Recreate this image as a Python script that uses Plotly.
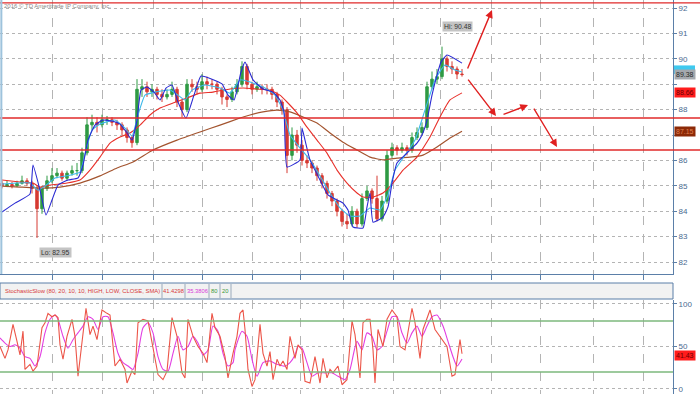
import plotly.graph_objects as go

# ---------------- data ----------------
bar_idx = list(range(93))
opens = [85.1, 85.0, 85.05, 85.0, 85.1, 85.2, 85.1, 84.9, 84.1, 84.9,
         85.2, 85.4, 85.5, 85.3, 85.5, 85.6, 85.6, 86.3, 87.4, 87.5,
         87.4, 87.6, 87.6, 87.5, 87.4, 87.2, 86.9, 86.7, 88.8, 88.9,
         88.7, 88.8, 88.6, 88.5, 88.6, 88.8, 88.3, 88.0, 89.0, 88.9,
         88.8, 89.1, 89.0, 89.0, 88.8, 88.5, 88.4, 88.7, 89.0, 89.7,
         89.0, 88.8, 88.9, 88.8, 88.8, 88.6, 88.3, 88.0, 86.2, 87.0,
         86.6, 86.0, 85.9, 85.7, 85.4, 85.1, 84.7, 84.4, 84.0, 83.6,
         83.5, 84.0, 83.5, 84.5, 84.8, 84.5, 83.7, 84.4, 86.2, 86.5,
         86.4, 86.5, 86.4, 86.9, 87.1, 87.3, 88.9, 89.2, 89.3, 90.0,
         89.7, 89.6, 89.4]
highs = [85.2, 85.2, 85.15, 85.2, 85.4, 85.3, 85.2, 85.0, 85.0, 85.4,
         85.7, 85.7, 85.6, 85.6, 85.8, 85.9, 86.5, 87.7, 87.8, 87.7,
         87.8, 87.75, 87.7, 87.6, 87.5, 87.3, 87.0, 89.2, 89.2, 89.1,
         89.0, 88.9, 88.8, 88.8, 89.1, 88.9, 88.4, 89.2, 89.2, 89.1,
         89.4, 89.3, 89.2, 89.1, 88.9, 88.6, 88.9, 89.2, 89.9, 89.8,
         89.1, 89.1, 89.0, 89.0, 88.9, 88.7, 88.4, 88.1, 87.3, 87.2,
         86.8, 86.2, 86.0, 85.8, 85.5, 85.2, 84.8, 84.5, 84.1, 83.9,
         84.2, 84.1, 84.7, 85.0, 84.9, 85.4, 84.6, 86.4, 86.7, 86.6,
         86.7, 86.6, 87.1, 87.3, 87.5, 89.1, 89.5, 89.6, 90.48, 90.1,
         89.9, 89.7, 89.6]
lows = [84.9, 84.95, 84.9, 84.95, 85.05, 85.0, 84.7, 82.95, 83.9, 84.8,
        85.1, 85.3, 85.2, 85.2, 85.4, 85.4, 85.5, 86.2, 87.2, 87.1,
        87.3, 87.4, 87.35, 87.2, 87.0, 86.7, 86.5, 86.6, 88.5, 88.5,
        88.5, 88.4, 88.3, 88.4, 88.5, 88.1, 87.7, 87.9, 88.7, 88.6,
        88.7, 88.8, 88.8, 88.6, 88.2, 88.1, 88.3, 88.6, 88.9, 88.8,
        88.6, 88.7, 88.6, 88.6, 88.4, 88.1, 87.8, 85.5, 86.0, 86.3,
        85.8, 85.7, 85.5, 85.2, 84.9, 84.5, 84.2, 83.8, 83.4, 83.3,
        83.4, 83.35, 83.4, 84.4, 84.3, 83.6, 83.6, 84.3, 86.1, 86.2,
        86.3, 86.2, 86.3, 86.8, 87.0, 87.2, 88.8, 89.0, 89.2, 89.5,
        89.4, 89.2, 89.3]
closes = [85.0, 85.05, 85.0, 85.1, 85.2, 85.1, 84.9, 84.1, 84.9, 85.2,
          85.4, 85.5, 85.3, 85.5, 85.6, 85.6, 86.3, 87.4, 87.5, 87.4,
          87.6, 87.6, 87.5, 87.4, 87.2, 86.9, 86.7, 88.8, 88.9, 88.7,
          88.8, 88.6, 88.5, 88.6, 88.8, 88.3, 88.0, 89.0, 88.9, 88.8,
          89.1, 89.0, 89.0, 88.8, 88.5, 88.4, 88.7, 89.0, 89.7, 89.0,
          88.8, 88.9, 88.8, 88.8, 88.6, 88.3, 88.0, 86.2, 87.0, 86.6,
          86.0, 85.9, 85.7, 85.4, 85.1, 84.7, 84.4, 84.0, 83.6, 83.5,
          84.0, 83.5, 84.5, 84.8, 84.5, 83.7, 84.4, 86.2, 86.5, 86.4,
          86.5, 86.4, 86.9, 87.1, 87.3, 88.9, 89.2, 89.3, 90.0, 89.7,
          89.6, 89.4, 89.38]

# fast "blue" band line
blue_x = [0, 2.6, 5.6, 6.2, 7.6, 8.8, 10, 11.2, 13.2, 15.2, 16.2, 17.2, 18.6, 20.2,
          22, 23.6, 25, 26, 27, 27.8, 29, 30.4, 31.6, 32.8, 34, 35.2, 36.8, 38.4,
          39.8, 42, 44, 45.2, 46.4, 47.8, 48.6, 50.2, 52.2, 54.2, 55.6, 56.4, 57,
          59.6, 60, 60.6, 61.6, 63.6, 65.2, 67, 68.2, 69.2, 70.2, 72.2, 73, 73.6,
          74.2, 76.2, 77.2, 78, 79, 81, 83, 84, 85, 86, 87, 87.8, 89, 92]
blue_y = [83.97, 84.32, 84.68, 85.82, 84.83, 83.85, 84.44, 85.03, 85.23, 85.31,
          85.82, 86.80, 87.39, 87.59, 87.55, 87.43, 87.08, 86.80, 87.59, 88.77,
          88.89, 88.69, 88.38, 88.85, 88.97, 88.30, 87.67, 88.57, 89.32, 89.20,
          89.01, 88.57, 88.38, 89.48, 89.87, 89.17, 88.81, 88.69, 88.38, 87.91,
          85.74, 86.02, 87.27, 86.80, 86.02, 85.23, 84.64, 84.44, 84.32, 84.05,
          83.38, 83.34, 84.17, 84.72, 83.57, 83.77, 84.17, 85.11, 85.90, 86.29,
          86.68, 87.00, 87.59, 88.57, 89.36, 89.87, 90.15, 89.83]
cyan_x = [0, 5.6, 7.2, 8.6, 10.6, 13.6, 15.6, 16.8, 18, 19.6, 22.6, 24.6, 26, 27.2,
          28.6, 30.6, 33.6, 35.2, 36.6, 38, 40.6, 43.6, 45.6, 47.6, 49.6, 52.6,
          54.6, 56.2, 57.6, 59.6, 61.6, 63.6, 65.6, 67.6, 69.6, 71.6, 73.6, 75.6,
          77.2, 78.6, 80.6, 82.6, 84.6, 86.6, 88.6, 90.6, 92]
cyan_y = [85.07, 85.11, 84.83, 84.99, 85.31, 85.42, 85.54, 86.41, 87.20, 87.43,
          87.59, 87.27, 86.96, 87.79, 88.57, 88.69, 88.77, 88.57, 88.38, 88.77,
          88.97, 88.85, 88.65, 89.17, 89.09, 88.85, 88.57, 87.98, 87.00, 86.49,
          86.02, 85.39, 84.72, 84.13, 83.81, 83.81, 84.13, 84.05, 84.64, 85.62,
          86.21, 86.80, 87.98, 89.17, 89.76, 89.56, 89.48]
red_ma_x = [0, 3.6, 6.2, 7.6, 9.6, 13, 15.6, 17.6, 19.6, 21.6, 23.6, 25.6, 27.6,
            29.6, 31.6, 34.2, 37, 39.6, 42.2, 45.6, 48.2, 51, 53.6, 55.6, 57, 59,
            61, 63, 65, 67, 69, 71, 72.2, 74.2, 76.2, 78.2, 80.2, 83, 85.6, 87.6,
            89.6, 92]
red_ma_y = [85.23, 85.15, 85.11, 84.95, 85.03, 85.11, 85.23, 85.62, 86.13, 86.68,
            86.92, 87.08, 87.39, 87.79, 88.06, 88.26, 88.46, 88.65, 88.69, 88.81,
            88.85, 88.81, 88.77, 88.57, 88.30, 87.87, 87.31, 86.80, 86.29, 85.62,
            85.11, 84.72, 84.56, 84.56, 84.72, 85.11, 85.62, 86.13, 86.92, 87.71,
            88.38, 88.66]
brown_x = [0, 3.6, 8.2, 11.6, 15.6, 19.6, 23, 26.2, 30.2, 35, 39.6, 43.6, 47.6,
           49.6, 52.2, 55, 57.6, 60.2, 63, 65.6, 68.2, 71, 73.6, 76.2, 79, 81.6,
           84.2, 87, 89.6, 92]
brown_y = [84.99, 84.95, 84.91, 84.95, 85.11, 85.39, 85.70, 85.94, 86.41, 86.80,
           87.12, 87.39, 87.67, 87.79, 87.91, 87.98, 87.91, 87.71, 87.47, 87.08,
           86.72, 86.41, 86.13, 86.02, 86.09, 86.13, 86.21, 86.53, 86.88, 87.15]

# StochasticSlow %K and %D
k_x = [-0.4, 0.6, 1.2, 2.2, 3, 3.6, 4.2, 4.6, 5.6, 6.2, 7, 8, 8.6, 9.2, 10, 10.6,
       11.2, 11.6, 12.2, 13, 14, 14.6, 15.2, 16, 16.8, 17.6, 18.2, 19, 20, 21, 21.6,
       22.6, 23.6, 24.6, 25, 26, 26.6, 27.2, 28.2, 29.2, 30.2, 31.2, 32.2, 33, 34,
       35, 36, 36.6, 37.2, 38.2, 39.2, 40.2, 41, 42, 42.6, 43.6, 44.6, 45.2, 46.2,
       47, 47.6, 48.2, 48.6, 49.2, 50, 50.6, 51.6, 52.2, 53, 53.6, 54.2, 55, 55.6,
       56.2, 57, 57.6, 58.6, 59.2, 60, 60.6, 61.6, 62.6, 63.6, 64.2, 65, 65.6, 66.2,
       67.2, 68, 69, 70, 70.6, 71.6, 72.2, 73, 73.6, 74.2, 74.6, 75.2, 76.2, 77, 78,
       79, 79.6, 80.6, 82, 82.6, 83.6, 84.2, 85.6, 86.6, 87.6, 89, 90, 90.6, 91.6, 92]
k_y = [50, 36, 46, 76, 56, 40, 68, 23, 29, 21, 27, 72, 78, 89, 85, 87,
       84, 52, 35, 62, 82, 62, 15, 54, 95, 64, 74, 58, 93, 89, 87,
       27, 35, 23, 7, 21, 17, 78, 82, 80, 50, 17, 11, 21, 84,
       62, 19, 13, 82, 62, 50, 42, 31, 89, 72, 62, 38, 13, 42,
       62, 89, 93, 70, 23, 3, 11, 76, 42, 27, 44, 11, 35, 27,
       33, 23, 62, 36, 52, 46, 9, 7, 38, 7, 36, 13, 23, 19,
       27, 5, 11, 80, 64, 13, 78, 82, 82, 46, 7, 70, 50, 82, 93,
       85, 50, 46, 95, 78, 36, 70, 93, 70, 62, 50, 15, 17, 58, 41.43]
d_x = [-0.4, 0.6, 1.6, 2.6, 3.6, 4.6, 5.6, 6.6, 7.6, 8.6, 9.6, 10.6, 11.2, 12.2,
       13.2, 14.2, 15.2, 16.2, 17.2, 18.2, 19.2, 20.2, 21.2, 22.2, 23.2, 24.2, 25.2,
       26.2, 27.2, 28.2, 29.2, 30.2, 31.2, 32.2, 33.2, 34.2, 35.2, 36.2, 37.2, 38.2,
       39.2, 40.2, 41.2, 42.2, 43.2, 44.2, 45.2, 46.2, 46.6, 48, 49, 50, 51, 52.2,
       53.6, 55, 56.6, 57.6, 58.6, 59.2, 60, 61, 62, 63.2, 64.6, 66, 67.2, 68.6,
       69.6, 71, 72, 73, 74, 75, 76, 77, 78, 79, 80, 81, 82, 83, 84, 85, 86, 87,
       88.2, 89.2, 90.2, 91, 92]
d_y = [60, 54, 50, 52, 48, 38, 36, 27, 38, 66, 82, 87, 82, 62,
       48, 58, 66, 74, 85, 82, 70, 85, 85, 66, 42, 31, 27,
       23, 42, 72, 78, 66, 38, 23, 21, 42, 62, 46, 50, 62,
       54, 40, 46, 74, 68, 42, 27, 31, 46, 68, 62, 35, 15, 31,
       33, 29, 27, 31, 40, 50, 48, 31, 15, 19, 19, 19, 15, 11,
       23, 56, 46, 66, 62, 46, 50, 68, 85, 85, 66, 54, 66, 74, 62, 74, 85, 87,
       74, 56, 38, 27, 35.38]

date_ticks = [10, 20, 30.2, 40, 50, 59.6, 68.2, 78.2, 87.6, 97.8, 107.6, 118.2, 128.2]
price_ticks = [82, 83, 84, 85, 86, 87, 88, 89, 90, 91, 92]
# 87 and 89 are hidden behind the value badges in the reference
price_tick_text = ["82", "83", "84", "85", "86", "", "88", "", "90", "91", "92"]
stoch_ticks = [0, 50, 100]
support_levels = [92.2, 87.67, 86.41]
stoch_bands = [80, 20]

last_close, last_cyan_ma, last_red_ma, last_brown_ma = 89.38, 89.52, 88.66, 87.15
stoch_k_last, stoch_d_last = "41.4298", "35.3806"
hi_val, lo_val = 90.48, 82.95

# ---------------- styling ----------------
W, H = 700, 394
GREEN, RED = "#2f9a44", "#d63a32"
AXC = "#5b7fa8"
GRID = "#b4b4b4"
FONT = "Liberation Sans, Arial"

fig = go.Figure()
fig.add_trace(go.Candlestick(
    x=bar_idx, open=opens, high=highs, low=lows, close=closes,
    increasing=dict(line=dict(color=GREEN, width=1), fillcolor=GREEN),
    decreasing=dict(line=dict(color=RED, width=1), fillcolor=RED),
    whiskerwidth=0, xaxis="x", yaxis="y", hoverinfo="skip"))
for xs, ys, col, w in [(brown_x, brown_y, "#a3542f", 1.2),
                       (red_ma_x, red_ma_y, "#e8302a", 1.1),
                       (cyan_x, cyan_y, "#3cb9ea", 1.1),
                       (blue_x, blue_y, "#2a2ad2", 1.1)]:
    fig.add_trace(go.Scatter(x=xs, y=ys, mode="lines",
                             line=dict(color=col, width=w, shape="spline", smoothing=0.4),
                             xaxis="x", yaxis="y", hoverinfo="skip"))
fig.add_trace(go.Scatter(x=d_x, y=d_y, mode="lines",
                         line=dict(color="#e23ee2", width=1.1, shape="spline", smoothing=0.6),
                         xaxis="x2", yaxis="y2", hoverinfo="skip"))
fig.add_trace(go.Scatter(x=k_x, y=k_y, mode="lines",
                         line=dict(color="#ec5548", width=1.1),
                         xaxis="x2", yaxis="y2", hoverinfo="skip"))

L, R = 0, 27
plot_w = W - L - R
xr = [-0.4, 134.2]
main_dom = [120 / H, 1]
stoch_dom = [0, 94 / H]

common_x = dict(range=xr, tickmode="array", tickvals=date_ticks, showticklabels=False,
                showgrid=True, gridcolor=GRID, griddash="dash", gridwidth=1,
                zeroline=False, fixedrange=True)
fig.update_layout(
    width=W, height=H, margin=dict(l=L, r=R, t=0, b=0, autoexpand=False),
    paper_bgcolor="white", plot_bgcolor="white", showlegend=False,
    font=dict(family=FONT, size=8, color="#3d5f8a"),
    xaxis=dict(**common_x, anchor="y", ticks="outside", ticklen=5, tickcolor=AXC,
               showline=True, linecolor=AXC, linewidth=1, rangeslider=dict(visible=False)),
    xaxis2=dict(**common_x, anchor="y2", ticks="", showline=False),
    yaxis=dict(domain=main_dom, range=[81.53, 92.315], side="right", tickmode="array",
               tickvals=price_ticks, ticktext=price_tick_text, ticks="outside", ticklen=3,
               tickcolor=AXC, showline=True, linecolor=AXC, showgrid=True, gridcolor=GRID,
               griddash="dot", zeroline=False, tickfont=dict(size=8, color="#4a6a90")),
    yaxis2=dict(domain=stoch_dom, range=[-5.9, 104.7], side="right", tickmode="array",
                tickvals=stoch_ticks, ticks="outside", ticklen=3, tickcolor=AXC,
                showline=True, linecolor=AXC, showgrid=True, gridcolor=GRID,
                griddash="dot", zeroline=False, tickfont=dict(size=8, color="#4a6a90")),
)

shapes = []
for lv in support_levels:
    shapes.append(dict(type="line", xref="paper", yref="y", x0=0, x1=W / plot_w,
                       y0=lv, y1=lv, line=dict(color="#e02a2a", width=1.3)))
for lv in stoch_bands:
    shapes.append(dict(type="line", xref="x2 domain", yref="y2", x0=0, x1=1,
                       y0=lv, y1=lv, line=dict(color="#7cb87c", width=1.3)))
shapes.append(dict(type="rect", xref="paper", yref="paper", x0=0, x1=1,
                   y0=1 - 299 / H, y1=1 - 283 / H, fillcolor="#f2f2f2",
                   line=dict(color=AXC, width=1)))
for sx in [162, 185, 209, 220, 231]:
    shapes.append(dict(type="line", xref="paper", yref="paper", x0=sx / plot_w, x1=sx / plot_w,
                       y0=1 - 298 / H, y1=1 - 284 / H, line=dict(color="#9aaabb", width=1)))
shapes.append(dict(type="line", xref="paper", yref="paper", x0=0.002, x1=0.002,
                   y0=main_dom[0], y1=1, line=dict(color="#9ec3dc", width=2)))
# cyan MA badge peeking out above the last-price badge
shapes.append(dict(type="rect", xref="paper", yref="y", x0=674 / plot_w, x1=695 / plot_w,
                   y0=last_cyan_ma - 0.12, y1=last_cyan_ma + 0.22, fillcolor="#3fc9ef",
                   line=dict(width=0)))
fig.update_layout(shapes=shapes)

ann = []
ann.append(dict(xref="paper", yref="paper", x=2 / plot_w, y=1 - 1 / H, xanchor="left",
                yanchor="top", text="2016 © TD Ameritrade IP Company, Inc.", showarrow=False,
                font=dict(size=6, color="#8a8a8a")))
hdr_y = 1 - 291 / H
ann.append(dict(xref="paper", yref="paper", x=3 / plot_w, y=hdr_y, xanchor="left",
                yanchor="middle", showarrow=False,
                text="StochasticSlow (80, 20, 10, 10, HIGH, LOW, CLOSE, SMA)",
                font=dict(size=5.9, color="#d83a3a")))
for tx, txt, col in [(173.5, stoch_k_last, "#d83a3a"), (197, stoch_d_last, "#d83ad8"),
                     (214.5, "80", "#3a9a3a"), (225.5, "20", "#3a9a3a")]:
    ann.append(dict(xref="paper", yref="paper", x=tx / plot_w, y=hdr_y, xanchor="center",
                    yanchor="middle", showarrow=False, text=txt,
                    font=dict(size=5.8, color=col)))
xlab = 674 / plot_w
for val, bg, fc in [(last_close, "#a4a8ad", "#2a2a2a"),
                    (last_red_ma, "#ff1c1c", "#6a0000"),
                    (last_brown_ma, "#8c2a08", "#e08050")]:
    ann.append(dict(xref="paper", yref="y", x=xlab, y=val, xanchor="left", yanchor="middle",
                    text=f"{val:.2f}", showarrow=False, bgcolor=bg, borderpad=1,
                    font=dict(size=7, color=fc)))
ann.append(dict(xref="paper", yref="y2", x=xlab, y=float(stoch_k_last) - 2, xanchor="left",
                yanchor="middle", text=f"{float(stoch_k_last):.2f}", showarrow=False,
                bgcolor="#ff1c1c", borderpad=1, font=dict(size=7, color="#6a0000")))
ann.append(dict(x=88, y=91.29, xref="x", yref="y", xanchor="left", yanchor="middle",
                text=f"Hi: {hi_val:.2f}", showarrow=False, bgcolor="#c4c4c4", borderpad=1,
                font=dict(size=6.8, color="#333333")))
ann.append(dict(x=7.4, y=82.39, xref="x", yref="y", xanchor="left", yanchor="middle",
                text=f"Lo: {lo_val:.2f}", showarrow=False, bgcolor="#c4c4c4", borderpad=1,
                font=dict(size=6.8, color="#333333")))
for (tx, ty), (hx, hy) in [((93, 89.56), (98, 91.92)), ((93, 89.24), (98.8, 87.75)),
                           ((100, 87.79), (105.2, 88.18)), ((106.2, 88.10), (111, 86.53))]:
    ann.append(dict(x=hx, y=hy, ax=tx, ay=ty, xref="x", yref="y", axref="x", ayref="y",
                    showarrow=True, arrowhead=2, arrowsize=1.1, arrowwidth=1.4,
                    arrowcolor="#e02020", text=""))
fig.update_layout(annotations=ann)

fig.write_html("out.html", config=dict(displayModeBar=False, staticPlot=True),
               post_script="document.body.style.margin='0px';document.body.style.overflow='hidden';")
